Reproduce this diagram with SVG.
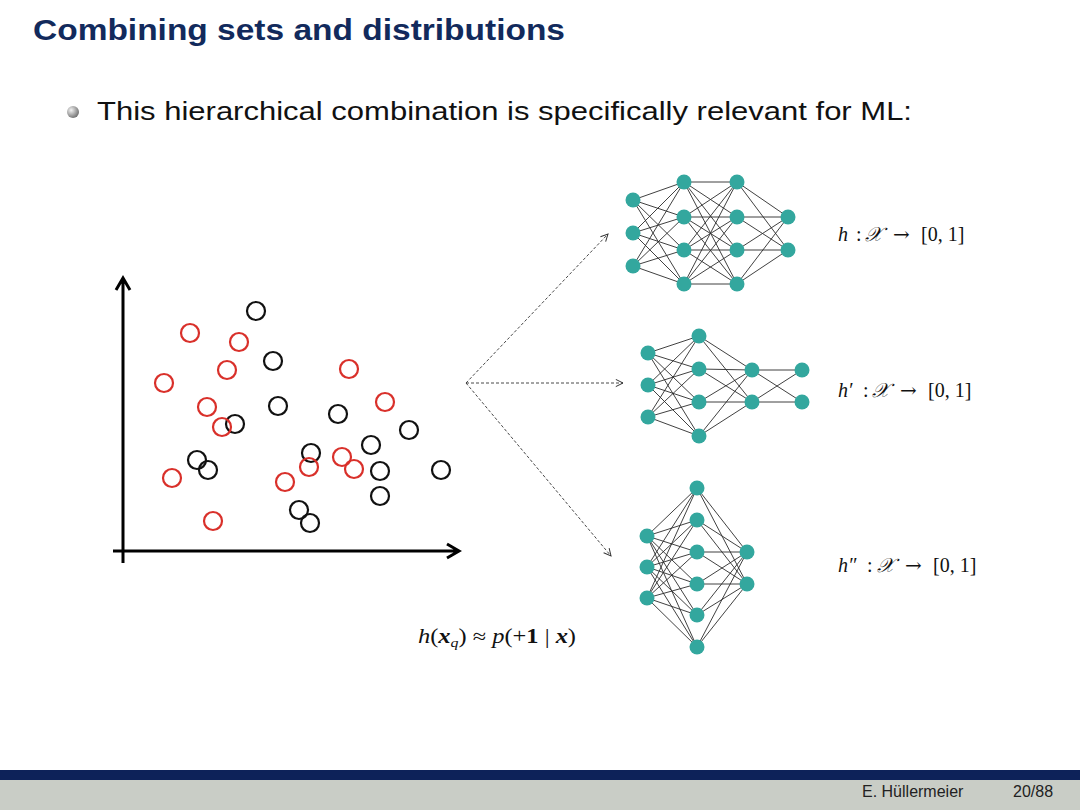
<svg xmlns="http://www.w3.org/2000/svg" width="1080" height="810" viewBox="0 0 1080 810">
<style>
.title{font-family:"Liberation Sans",Arial,sans-serif;font-weight:bold;font-size:29px;fill:#122a5c}
.body{font-family:"Liberation Sans",Arial,sans-serif;font-size:26px;fill:#111}
.foot{font-family:"Liberation Sans",Arial,sans-serif;font-size:16px;fill:#222}
.math{font-family:"Liberation Serif","DejaVu Serif",serif;font-size:20px;fill:#111}
.it{font-style:italic}
.bi{font-style:italic;font-weight:bold}
.b{font-weight:bold}
.arr{font-family:"DejaVu Serif",serif;font-size:20px}
.scr{font-size:20px}
.red{fill:none;stroke:#d9302a;stroke-width:2.2}
.blk{fill:none;stroke:#111;stroke-width:2.2}
.axis{fill:none;stroke:#000;stroke-width:3}
.edge{fill:none;stroke:#2b2b2b;stroke-width:0.9}
.unit{fill:#33a79e}
.dash{fill:none;stroke:#333;stroke-width:0.9;stroke-dasharray:3 2}
</style>
<defs>
<radialGradient id="ball" cx="0.35" cy="0.35" r="0.7">
<stop offset="0" stop-color="#f2f2f2"/>
<stop offset="1" stop-color="#6f6f6f"/>
</radialGradient>
<marker id="open" viewBox="0 0 10 10" refX="9" refY="5" markerWidth="9" markerHeight="9" markerUnits="userSpaceOnUse" orient="auto">
<path d="M1 1L9 5L1 9" fill="none" stroke="#333" stroke-width="1.1"/>
</marker>
</defs>
<rect width="1080" height="810" fill="#fff"/>
<text class="title" x="33" y="40" textLength="532" lengthAdjust="spacingAndGlyphs">Combining sets and distributions</text>
<circle cx="73" cy="112" r="6" fill="url(#ball)"/>
<text class="body" x="97" y="120" textLength="815" lengthAdjust="spacingAndGlyphs">This hierarchical combination is specifically relevant for ML:</text>

<g id="scatter">
<path class="axis" d="M123 563V279M116 290L123 278L130 290"/>
<path class="axis" d="M113 551H458M447 544L459 551L447 558"/>
<circle class="blk" cx="256" cy="311" r="9"/>
<circle class="blk" cx="273" cy="361" r="9"/>
<circle class="blk" cx="278" cy="406" r="9"/>
<circle class="blk" cx="235" cy="424" r="9"/>
<circle class="blk" cx="338" cy="414" r="9"/>
<circle class="blk" cx="409" cy="430" r="9"/>
<circle class="blk" cx="371" cy="445" r="9"/>
<circle class="blk" cx="311" cy="453" r="9"/>
<circle class="blk" cx="197" cy="460" r="9"/>
<circle class="blk" cx="208" cy="470" r="9"/>
<circle class="blk" cx="380" cy="471" r="9"/>
<circle class="blk" cx="441" cy="470" r="9"/>
<circle class="blk" cx="380" cy="496" r="9"/>
<circle class="blk" cx="299" cy="510" r="9"/>
<circle class="blk" cx="310" cy="523" r="9"/>
<circle class="red" cx="190" cy="333" r="9"/>
<circle class="red" cx="239" cy="342" r="9"/>
<circle class="red" cx="227" cy="370" r="9"/>
<circle class="red" cx="349" cy="369" r="9"/>
<circle class="red" cx="164" cy="383" r="9"/>
<circle class="red" cx="385" cy="402" r="9"/>
<circle class="red" cx="207" cy="407" r="9"/>
<circle class="red" cx="222" cy="427" r="9"/>
<circle class="red" cx="342" cy="457" r="9"/>
<circle class="red" cx="309" cy="467" r="9"/>
<circle class="red" cx="354" cy="469" r="9"/>
<circle class="red" cx="172" cy="478" r="9"/>
<circle class="red" cx="285" cy="482" r="9"/>
<circle class="red" cx="213" cy="521" r="9"/>
</g>

<g id="connectors">
<path class="dash" d="M466 383L608 234" marker-end="url(#open)"/>
<path class="dash" d="M466 383L623 383" marker-end="url(#open)"/>
<path class="dash" d="M466 383L611 556" marker-end="url(#open)"/>
</g>

<g id="net1">
<path class="edge" d="M633 200L684 182M633 200L684 217M633 200L684 250M633 200L684 284M633 233L684 182M633 233L684 217M633 233L684 250M633 233L684 284M633 266L684 182M633 266L684 217M633 266L684 250M633 266L684 284"/>
<path class="edge" d="M684 182L737 182M684 182L737 217M684 182L737 250M684 182L737 284M684 217L737 182M684 217L737 217M684 217L737 250M684 217L737 284M684 250L737 182M684 250L737 217M684 250L737 250M684 250L737 284M684 284L737 182M684 284L737 217M684 284L737 250M684 284L737 284"/>
<path class="edge" d="M737 182L788 217M737 182L788 250M737 217L788 217M737 217L788 250M737 250L788 217M737 250L788 250M737 284L788 217M737 284L788 250"/>
<circle class="unit" cx="633" cy="200" r="7.5"/><circle class="unit" cx="633" cy="233" r="7.5"/><circle class="unit" cx="633" cy="266" r="7.5"/>
<circle class="unit" cx="684" cy="182" r="7.5"/><circle class="unit" cx="684" cy="217" r="7.5"/><circle class="unit" cx="684" cy="250" r="7.5"/><circle class="unit" cx="684" cy="284" r="7.5"/>
<circle class="unit" cx="737" cy="182" r="7.5"/><circle class="unit" cx="737" cy="217" r="7.5"/><circle class="unit" cx="737" cy="250" r="7.5"/><circle class="unit" cx="737" cy="284" r="7.5"/>
<circle class="unit" cx="788" cy="217" r="7.5"/><circle class="unit" cx="788" cy="250" r="7.5"/>
</g>

<g id="net2">
<path class="edge" d="M648 353L699 336M648 353L699 369M648 353L699 402M648 353L699 436M648 385L699 336M648 385L699 369M648 385L699 402M648 385L699 436M648 417L699 336M648 417L699 369M648 417L699 402M648 417L699 436"/>
<path class="edge" d="M699 336L752 370M699 336L752 402M699 369L752 370M699 369L752 402M699 402L752 370M699 402L752 402M699 436L752 370M699 436L752 402"/>
<path class="edge" d="M752 370L802 370M752 370L802 402M752 402L802 370M752 402L802 402"/>
<circle class="unit" cx="648" cy="353" r="7.5"/><circle class="unit" cx="648" cy="385" r="7.5"/><circle class="unit" cx="648" cy="417" r="7.5"/>
<circle class="unit" cx="699" cy="336" r="7.5"/><circle class="unit" cx="699" cy="369" r="7.5"/><circle class="unit" cx="699" cy="402" r="7.5"/><circle class="unit" cx="699" cy="436" r="7.5"/>
<circle class="unit" cx="752" cy="370" r="7.5"/><circle class="unit" cx="752" cy="402" r="7.5"/>
<circle class="unit" cx="802" cy="370" r="7.5"/><circle class="unit" cx="802" cy="402" r="7.5"/>
</g>

<g id="net3">
<path class="edge" d="M647 536L697 488M647 536L697 520M647 536L697 552M647 536L697 584M647 536L697 615M647 536L697 647M647 567L697 488M647 567L697 520M647 567L697 552M647 567L697 584M647 567L697 615M647 567L697 647M647 598L697 488M647 598L697 520M647 598L697 552M647 598L697 584M647 598L697 615M647 598L697 647"/>
<path class="edge" d="M697 488L747 552M697 488L747 584M697 520L747 552M697 520L747 584M697 552L747 552M697 552L747 584M697 584L747 552M697 584L747 584M697 615L747 552M697 615L747 584M697 647L747 552M697 647L747 584"/>
<circle class="unit" cx="647" cy="536" r="7.5"/><circle class="unit" cx="647" cy="567" r="7.5"/><circle class="unit" cx="647" cy="598" r="7.5"/>
<circle class="unit" cx="697" cy="488" r="7.5"/><circle class="unit" cx="697" cy="520" r="7.5"/><circle class="unit" cx="697" cy="552" r="7.5"/><circle class="unit" cx="697" cy="584" r="7.5"/><circle class="unit" cx="697" cy="615" r="7.5"/><circle class="unit" cx="697" cy="647" r="7.5"/>
<circle class="unit" cx="747" cy="552" r="7.5"/><circle class="unit" cx="747" cy="584" r="7.5"/>
</g>

<g id="label-h">
<text class="math" y="241"><tspan class="it" x="838">h</tspan><tspan x="856">:</tspan><tspan class="it scr" x="865">𝒳</tspan><tspan class="arr" x="893">→</tspan><tspan x="921">[0, 1]</tspan></text>
</g>
<g id="label-h1">
<text class="math" y="397"><tspan class="it" x="838">h′</tspan><tspan x="863">:</tspan><tspan class="it scr" x="872">𝒳</tspan><tspan class="arr" x="900">→</tspan><tspan x="928">[0, 1]</tspan></text>
</g>
<g id="label-h2">
<text class="math" y="572"><tspan class="it" x="838">h″</tspan><tspan x="867">:</tspan><tspan class="it scr" x="877">𝒳</tspan><tspan class="arr" x="905">→</tspan><tspan x="933">[0, 1]</tspan></text>
</g>
<g id="label-formula">
<text class="math" x="418" y="643" textLength="158" lengthAdjust="spacingAndGlyphs"><tspan class="it">h</tspan>(<tspan class="bi">x</tspan><tspan class="it" font-size="13" dy="4">q</tspan><tspan dy="-4">) ≈ </tspan><tspan class="it">p</tspan>(+<tspan class="b">1</tspan> | <tspan class="bi">x</tspan>)</text>
</g>

<rect x="0" y="770" width="1080" height="10" fill="#0d2259"/>
<rect x="0" y="780" width="1080" height="30" fill="#c9cdc6"/>
<text class="foot" x="862" y="797">E. Hüllermeier</text>
<text class="foot" x="1013" y="797">20/88</text>
</svg>
